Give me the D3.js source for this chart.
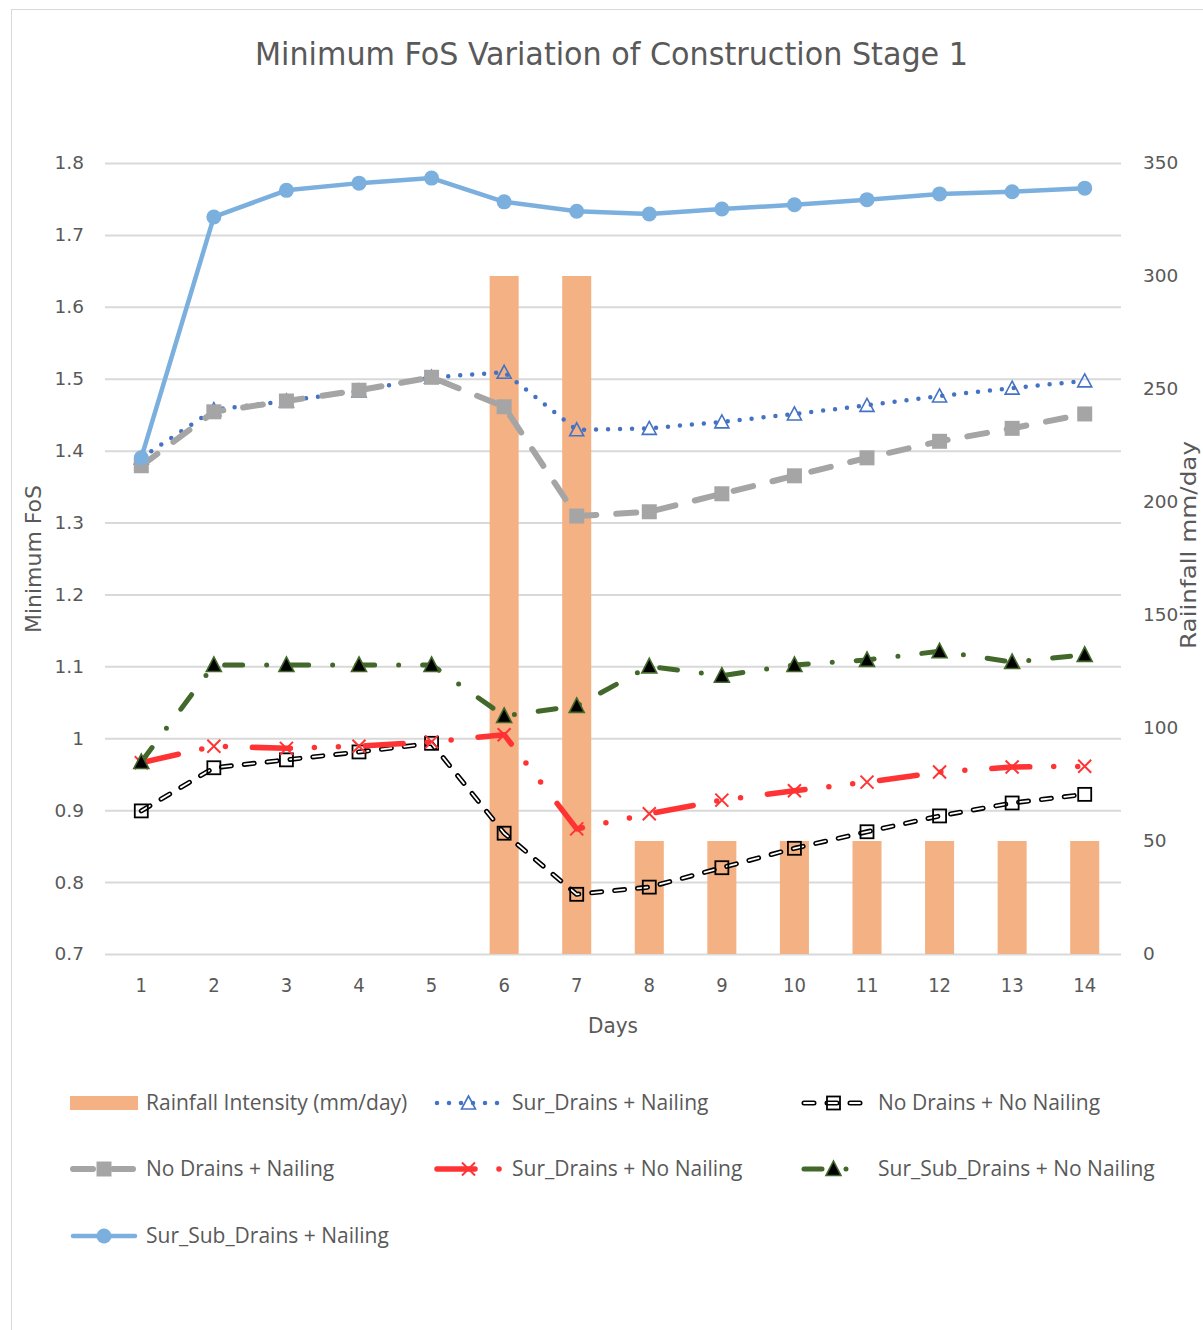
<!DOCTYPE html>
<html>
<head>
<meta charset="utf-8">
<script src="https://cdn.jsdelivr.net/npm/d3@7"></script>
<style>
  html, body { margin: 0; padding: 0; background: #fff; }
  svg { display: block; }
</style>
</head>
<body>
<svg id="chart" width="1203" height="1330"></svg>
<script>
// ---------------- DATA ----------------
const days = [1, 2, 3, 4, 5, 6, 7, 8, 9, 10, 11, 12, 13, 14];
const rainfall = [0, 0, 0, 0, 0, 300, 300, 50, 50, 50, 50, 50, 50, 50];
const surDrainsNailing      = [1.390, 1.457, 1.469, 1.483, 1.502, 1.509, 1.429, 1.431, 1.440, 1.451, 1.463, 1.476, 1.487, 1.497];
const noDrainsNoNailing     = [0.899, 0.959, 0.970, 0.981, 0.993, 0.868, 0.783, 0.793, 0.820, 0.847, 0.870, 0.892, 0.910, 0.922];
const noDrainsNailing       = [1.379, 1.454, 1.469, 1.484, 1.502, 1.461, 1.309, 1.315, 1.340, 1.365, 1.390, 1.413, 1.431, 1.451];
const surDrainsNoNailing    = [0.966, 0.989, 0.986, 0.989, 0.995, 1.005, 0.874, 0.895, 0.914, 0.927, 0.939, 0.953, 0.960, 0.961];
const surSubDrainsNoNailing = [0.967, 1.102, 1.102, 1.102, 1.102, 1.031, 1.045, 1.100, 1.087, 1.102, 1.109, 1.121, 1.106, 1.116];
const surSubDrainsNailing   = [1.390, 1.725, 1.762, 1.772, 1.779, 1.746, 1.733, 1.729, 1.736, 1.742, 1.749, 1.757, 1.760, 1.765];
const leftTicks = [0.7, 0.8, 0.9, 1.0, 1.1, 1.2, 1.3, 1.4, 1.5, 1.6, 1.7, 1.8];
const rightTicks = [0, 50, 100, 150, 200, 250, 300, 350];
const titleText = "Minimum FoS Variation of Construction Stage 1";
const xTitle = "Days";
const yLeftTitle = "Minimum FoS";
const yRightTitle = "Raiinfall mm/day";
const rainLabel = "Rainfall Intensity (mm/day)";

// ---------------- LAYOUT ----------------
const svg = d3.select("#chart");
const plot = { left: 105, right: 1121, top: 163, bottom: 954 };
const textColor = "#595959";
const gridColor = "#D9D9D9";
const condensed = "'Liberation Sans Narrow', 'DejaVu Sans Condensed', 'Roboto Condensed', Lato, sans-serif";

// frame
svg.append("rect").attr("x", 11.5).attr("y", 9.5).attr("width", 1250).attr("height", 1400)
  .attr("fill", "#fff").attr("stroke", gridColor).attr("stroke-width", 1);

const x = d3.scaleBand().domain(days).range([plot.left, plot.right]).paddingInner(0.6).paddingOuter(0.3);
const xc = d => x(d) + x.bandwidth() / 2;
const yL = d3.scaleLinear().domain([0.7, 1.8]).range([plot.bottom, plot.top]);
const yR = d3.scaleLinear().domain([0, 350]).range([plot.bottom, plot.top]);

function fitText(sel, width) {
  sel.attr("textLength", width).attr("lengthAdjust", "spacingAndGlyphs");
}

// title
svg.append("text").attr("x", 611.5).attr("y", 65).attr("text-anchor", "middle")
  .attr("font-family", condensed).attr("font-size", 32).attr("fill", textColor)
  .text(titleText).call(fitText, 713);

// left axis with gridlines
const gL = svg.append("g").attr("transform", `translate(${plot.left},0)`)
  .call(d3.axisLeft(yL).tickValues(leftTicks).tickSize(-(plot.right - plot.left)).tickPadding(21)
    .tickFormat(d => String(+d.toFixed(1))));
gL.select(".domain").remove();
gL.selectAll(".tick line").attr("stroke", gridColor).attr("stroke-width", 2);
gL.selectAll(".tick text").attr("font-family", "'DejaVu Sans', sans-serif").attr("font-size", 18.5)
  .attr("fill", textColor);

// right axis
const gR = svg.append("g").attr("transform", `translate(${plot.right},0)`)
  .call(d3.axisRight(yR).tickValues(rightTicks).tickSize(0).tickPadding(22));
gR.select(".domain").remove();
gR.selectAll(".tick text").attr("font-family", "'DejaVu Sans', sans-serif").attr("font-size", 18.5)
  .attr("fill", textColor);

// bottom axis
const gB = svg.append("g").attr("transform", `translate(0,${plot.bottom})`)
  .call(d3.axisBottom(x).tickSize(0).tickPadding(24));
gB.select(".domain").remove();
gB.selectAll(".tick text").attr("font-family", condensed).attr("font-size", 20).attr("fill", textColor);

// axis titles
svg.append("text").attr("x", 613).attr("y", 1033).attr("text-anchor", "middle")
  .attr("font-family", condensed).attr("font-size", 22).attr("fill", textColor).text(xTitle)
  .call(fitText, 50);
svg.append("text").attr("transform", "translate(41,559) rotate(-90)").attr("text-anchor", "middle")
  .attr("font-family", condensed).attr("font-size", 22).attr("fill", textColor).text(yLeftTitle)
  .call(fitText, 148);
svg.append("text").attr("transform", "translate(1196,545) rotate(-90)").attr("text-anchor", "middle")
  .attr("font-family", condensed).attr("font-size", 21).attr("fill", textColor).text(yRightTitle)
  .call(fitText, 208);

// bars
svg.append("g").selectAll("rect").data(days).join("rect")
  .attr("x", d => x(d)).attr("width", x.bandwidth())
  .attr("y", (d, i) => yR(rainfall[i])).attr("height", (d, i) => yR(0) - yR(rainfall[i]))
  .attr("fill", "#F4B183");

// ---------------- SERIES ----------------
const series = [
  { name: "Sur_Drains + Nailing", values: surDrainsNailing, color: "#4472C4", width: 4.5, dash: "0 12", cap: "round", marker: "triOpen" },
  { name: "No Drains + No Nailing", values: noDrainsNoNailing, color: "#000", width: 5, dash: "10 13", cap: "round", marker: "sqOpen", outline: true },
  { name: "No Drains + Nailing", values: noDrainsNailing, color: "#A5A5A5", width: 6, dash: "20 20", cap: "round", marker: "sqFill" },
  { name: "Sur_Drains + No Nailing", values: surDrainsNoNailing, color: "#FF3333", width: 5.5, dash: "38 24 0 24 0 27", cap: "round", marker: "cross" },
  { name: "Sur_Sub_Drains + No Nailing", values: surSubDrainsNoNailing, color: "#43682B", width: 5, dash: "18 24 0 24", cap: "round", marker: "triFill" },
  { name: "Sur_Sub_Drains + Nailing", values: surSubDrainsNailing, color: "#7BAFDE", width: 4.5, dash: null, cap: "round", marker: "circle" }
];

function drawPath(g, s, pts) {
  const line = d3.line().x(p => p[0]).y(p => p[1]);
  g.append("path").attr("d", line(pts)).attr("fill", "none")
    .attr("stroke", s.color).attr("stroke-width", s.width)
    .attr("stroke-dasharray", s.dash).attr("stroke-linecap", s.cap).attr("stroke-linejoin", "round");
  if (s.outline) {
    g.append("path").attr("d", line(pts)).attr("fill", "none")
      .attr("stroke", "#fff").attr("stroke-width", 1.8)
      .attr("stroke-dasharray", s.dash).attr("stroke-linecap", s.cap).attr("stroke-linejoin", "round");
  }
}

function drawMarker(g, s, cx, cy) {
  const m = s.marker;
  if (m === "circle") {
    g.append("circle").attr("cx", cx).attr("cy", cy).attr("r", 7.5).attr("fill", s.color);
  } else if (m === "sqFill") {
    g.append("rect").attr("x", cx - 7.5).attr("y", cy - 7.5).attr("width", 15).attr("height", 15).attr("fill", s.color);
  } else if (m === "sqOpen") {
    g.append("rect").attr("x", cx - 6.5).attr("y", cy - 6.5).attr("width", 13).attr("height", 13)
      .attr("fill", "none").attr("stroke", "#000").attr("stroke-width", 1.8);
  } else if (m === "triOpen") {
    g.append("path").attr("d", `M${cx},${cy - 7}L${cx + 7},${cy + 6}L${cx - 7},${cy + 6}Z`)
      .attr("fill", "none").attr("stroke", s.color).attr("stroke-width", 1.6);
  } else if (m === "triFill") {
    g.append("path").attr("d", `M${cx},${cy - 8}L${cx + 7.5},${cy + 6.5}L${cx - 7.5},${cy + 6.5}Z`)
      .attr("fill", "#000").attr("stroke", s.color).attr("stroke-width", 1.6);
  } else if (m === "cross") {
    g.append("path").attr("d", `M${cx - 6.5},${cy - 6.5}L${cx + 6.5},${cy + 6.5}M${cx + 6.5},${cy - 6.5}L${cx - 6.5},${cy + 6.5}`)
      .attr("stroke", s.color).attr("stroke-width", 2);
  }
}

const gSeries = svg.append("g");
series.forEach(s => {
  const g = gSeries.append("g");
  const pts = days.map((d, i) => [xc(d), yL(s.values[i])]);
  drawPath(g, s, pts);
  pts.forEach(p => drawMarker(g, s, p[0], p[1]));
});

// ---------------- LEGEND ----------------
const legendRows = [1103, 1169, 1236];
const legendCols = [ { x0: 70, x1: 138, tx: 146 }, { x0: 434, x1: 503, tx: 512 }, { x0: 801, x1: 866, tx: 878 } ];
const legendItems = [{ name: rainLabel, bar: true }].concat(series);
const gLeg = svg.append("g");
legendItems.forEach((it, i) => {
  const col = legendCols[i % 3], y = legendRows[Math.floor(i / 3)];
  const g = gLeg.append("g");
  if (it.bar) {
    g.append("rect").attr("x", col.x0).attr("y", y - 7).attr("width", col.x1 - col.x0).attr("height", 14).attr("fill", "#F4B183");
  } else {
    drawPath(g, it, [[col.x0 + 3, y], [col.x1 - 3, y]]);
    drawMarker(g, it, (col.x0 + col.x1) / 2, y);
  }
  g.append("text").attr("x", col.tx).attr("y", y + 7).attr("font-family", "'Open Sans', sans-serif")
    .attr("font-size", 21).attr("fill", textColor).text(it.name);
});
</script>
</body>
</html>
